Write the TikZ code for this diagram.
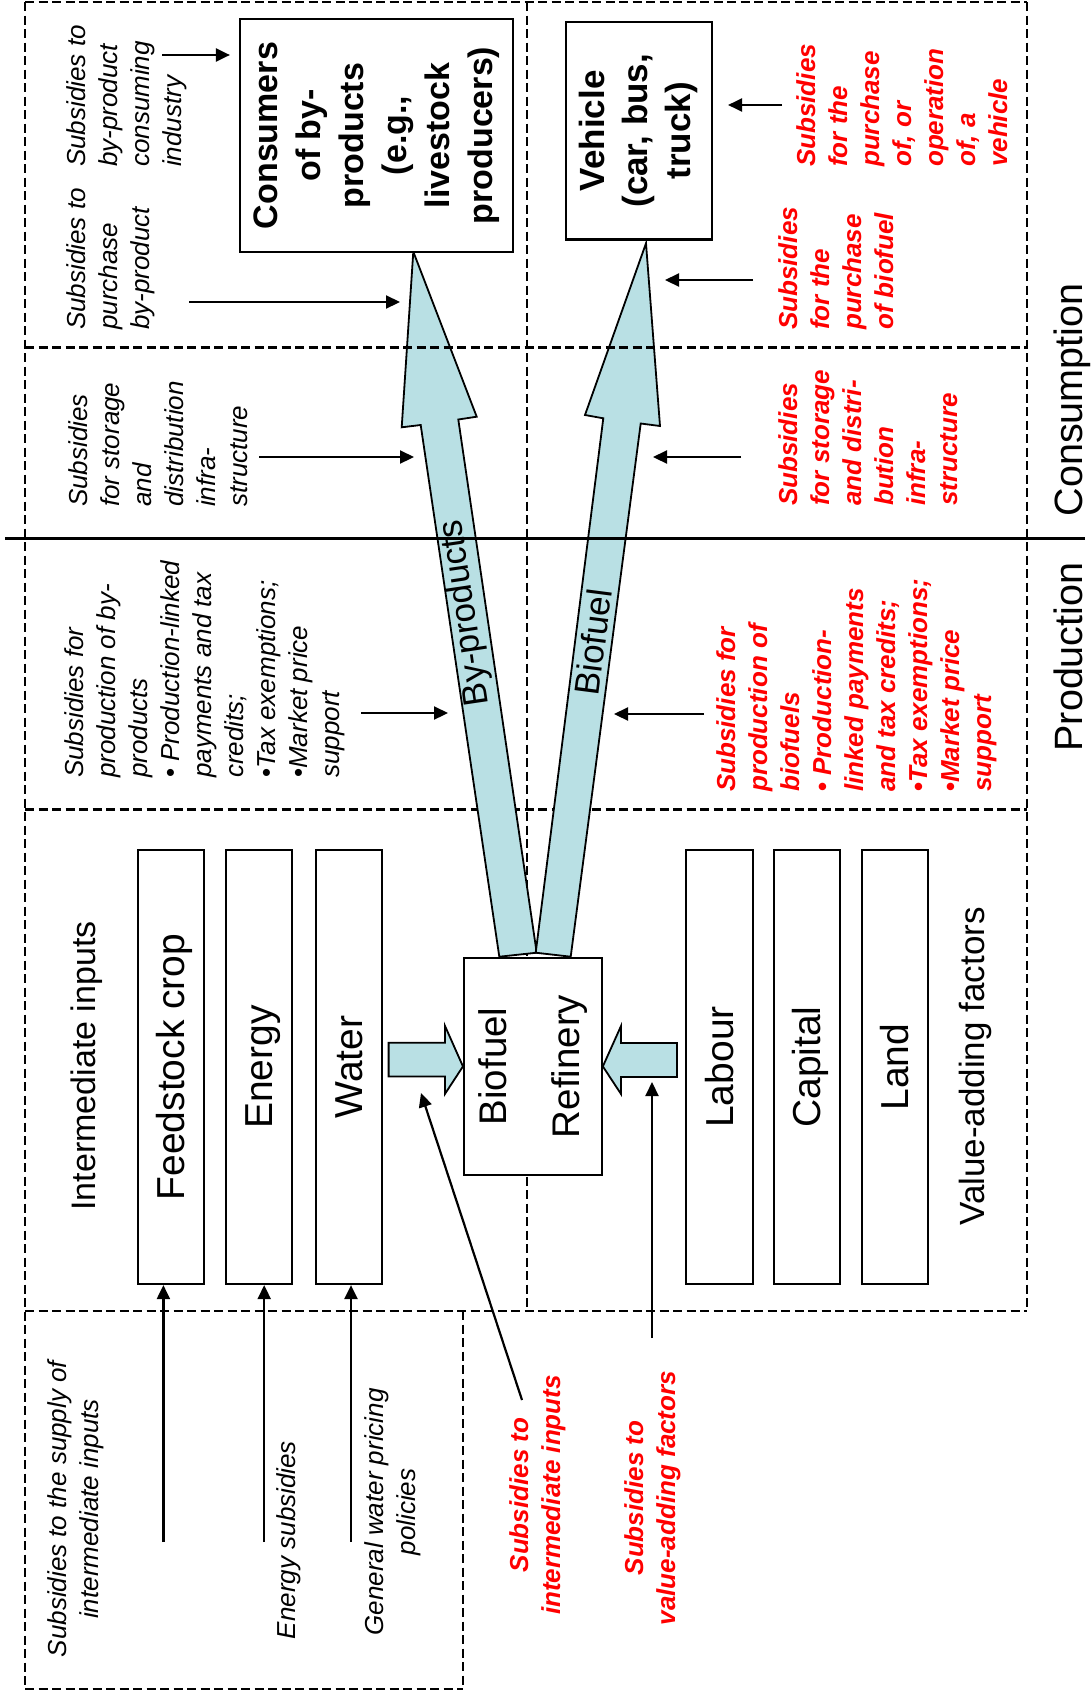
\documentclass[tikz,border=0pt]{standalone}
\usepackage{fontspec}
\setmainfont{Liberation Sans}
\usetikzlibrary{arrows.meta}
\definecolor{flow}{RGB}{185,224,228}
\definecolor{rdc}{RGB}{255,0,0}
\begin{document}
\begin{tikzpicture}[x=1pt,y=-1pt,
  dsh/.style={line width=2.2pt, dash pattern=on 9pt off 4.5pt},
  arr/.style={line width=2.2pt, -{Triangle[length=14pt,width=13pt]}},
  flowshape/.style={draw, line width=1.8pt, fill=flow, line join=miter},
  box/.style={draw, line width=2.2pt, rotate=90, inner sep=0pt, fill=white},
  inbox/.style={box, minimum width=434pt, minimum height=66pt, font=\fontsize{39}{45}\selectfont, text height=35.3pt, text depth=8.3pt},
  blk/.style={rotate=90, inner sep=0pt, align=left, anchor=north west, font=\fontsize{26}{32}\selectfont\itshape},
  rd/.style={rotate=90, inner sep=0pt, align=left, anchor=north west, text=rdc, font=\fontsize{26}{32}\selectfont\bfseries\itshape},
  blkc/.style={rotate=90, inner sep=0pt, align=center, font=\fontsize{26}{32}\selectfont\itshape},
  rdc/.style={rotate=90, inner sep=0pt, align=center, text=rdc, font=\fontsize{26}{32}\selectfont\bfseries\itshape},
  big/.style={inner sep=0pt, font=\fontsize{35}{40}\selectfont}
]
\useasboundingbox (0,0) rectangle (1090,1695);

% ---------- dashed frame ----------
\draw[dsh] (25,2) -- (1027,2);
\draw[dsh] (25,2) -- (25,1689);
\draw[dsh] (1027,2) -- (1027,1311);
\draw[dsh] (527,2) -- (527,1311);
\draw[dsh] (25,809.5) -- (1027,809.5);
\draw[dsh] (25,1311) -- (1027,1311);
\draw[dsh] (463,1311) -- (463,1689);
\draw[dsh] (25,1689) -- (463,1689);

% ---------- big flow arrows ----------
\coordinate (bp1) at (499.3,956.7);
\coordinate (bp2) at (420.7,425);
\coordinate (bp3) at (401.7,427.3);
\coordinate (bp4) at (413.3,251.7);
\coordinate (bp5) at (476.7,416.7);
\coordinate (bp6) at (458.3,419.5);
\coordinate (bp7) at (536.7,952.7);
\draw[flowshape] (bp1) -- (bp2) -- (bp3) -- (bp4) -- (bp5) -- (bp6) -- (bp7) -- cycle;

\coordinate (bf1) at (535.7,952.7);
\coordinate (bf2) at (603.3,418.3);
\coordinate (bf3) at (585,415);
\coordinate (bf4) at (646,243.3);
\coordinate (bf5) at (660,426);
\coordinate (bf6) at (640.7,423.5);
\coordinate (bf7) at (570.7,956.7);
\draw[flowshape] (bf1) -- (bf2) -- (bf3) -- (bf4) -- (bf5) -- (bf6) -- (bf7) -- cycle;

\node[big, rotate=98.4] (bylab) at (466,613) {By-products};
\node[big, rotate=82.6] (bflab) at (593,642) {Biofuel};

% lines drawn over arrows
\draw[dsh] (25,347.5) -- (1027,347.5);
\draw[line width=2.4pt] (5,538.5) -- (1085,538.5);

% ---------- boxes ----------
\node[box, align=center, minimum width=233pt, minimum height=273pt,
      font=\fontsize{34}{43}\selectfont\bfseries] (cons) at (376.5,135.5)
  {Consumers\\of by-\\products\\(e.g.,\\livestock\\producers)};
\node[box, align=center, minimum width=217.5pt, minimum height=146.3pt,
      font=\fontsize{35}{43}\selectfont\bfseries] (veh) at (638.8,130.8)
  {Vehicle\\(car, bus,\\truck)};
\node[box, align=center, minimum width=217.3pt, minimum height=137.7pt,
      font=\fontsize{38.5}{73}\selectfont] (ref) at (532.9,1066.4)
  {Biofuel\\Refinery};

\node[inbox] (feed) at (171,1067) {Feedstock crop};
\node[inbox] (ener) at (259,1067) {Energy};
\node[inbox] (watr) at (349,1067) {Water};
\node[inbox, minimum height=67pt] (labr) at (719.5,1067) {Labour};
\node[inbox] (capi) at (807,1067) {Capital};
\node[inbox] (land) at (895,1067) {Land};

\node[big, rotate=90, font=\fontsize{34}{40}\selectfont] (iilab) at (87,1066) {Intermediate inputs};
\node[big, rotate=90, font=\fontsize{35}{40}\selectfont] (valab) at (975.5,1066.5) {Value-adding factors};

% small block arrows into refinery
\draw[flowshape] (388.6,1042.7) -- (444.9,1042.7) -- (444.9,1025.7) -- (ref.north) -- (444.9,1094) -- (444.9,1076.5) -- (388.6,1076.5) -- cycle;
\draw[flowshape] (677,1043) -- (621,1043) -- (621,1026) -- (ref.south) -- (621,1094) -- (621,1077) -- (677,1077) -- cycle;

% ---------- section labels ----------
\node[big, rotate=90, anchor=base, font=\fontsize{39.5}{45}\selectfont] (conslab) at (1082,400) {Consumption};
\node[big, rotate=90, anchor=base, font=\fontsize{39.5}{45}\selectfont] (prodlab) at (1082,657) {Production};

% ---------- black policy texts ----------
\node[blk] (t1) at (66,330) {Subsidies to\\purchase\\by-product};
\node[blk] (t2) at (66,167) {Subsidies to\\by-product\\consuming\\industry};
\node[blk] (t5) at (68,507) {Subsidies\\for storage\\and\\distribution\\infra-\\structure};
\node[blk] (t7) at (64,778) {Subsidies for\\production of by-\\products\\{\upshape\textbullet}\ Production-linked\\payments and tax\\credits;\\{\upshape\textbullet}Tax exemptions;\\{\upshape\textbullet}Market price\\support};

% ---------- red policy texts ----------
\node[rd] (t3) at (796,167) {Subsidies\\for the\\purchase\\of, or\\operation\\of, a\\vehicle};
\node[rd] (t4) at (778,330) {Subsidies\\for the\\purchase\\of biofuel};
\node[rd] (t6) at (778,506) {Subsidies\\for storage\\and distri-\\bution\\infra-\\structure};
\node[rd] (t8) at (716,792) {Subsidies for\\production of\\biofuels\\{\upshape\textbullet}\ Production-\\linked payments\\and tax credits;\\{\upshape\textbullet}Tax exemptions;\\{\upshape\textbullet}Market price\\support};

% ---------- bottom texts ----------
\node[blkc] (t9) at (76,1509) {Subsidies to the supply of\\intermediate inputs};
\node[blkc] (t10) at (288.5,1540) {Energy subsidies};
\node[blkc] (t11) at (393,1512) {General water pricing\\policies};
\node[rdc] (t12) at (537.5,1495) {Subsidies to\\intermediate inputs};
\node[rdc] (t13) at (652.5,1498) {Subsidies to\\value-adding factors};

% ---------- connectors ----------
\coordinate (a1s) at (162,55);
\draw[arr, shorten >=9pt] (a1s) -- (a1s -| cons.north);
\coordinate (a2s) at (189,302);
\coordinate (a2e) at (400,302);
\draw[arr] (a2s) -- (a2e);
\coordinate (a3s) at (753,280);
\coordinate (a3e) at (665,280);
\draw[arr] (a3s) -- (a3e);
\coordinate (a4s) at (782,105);
\draw[arr, shorten >=15pt] (a4s) -- (a4s -| veh.south);
\coordinate (a5s) at (259,457);
\coordinate (a5e) at (414,457);
\draw[arr] (a5s) -- (a5e);
\coordinate (a6s) at (741,457);
\coordinate (a6e) at (653,457);
\draw[arr] (a6s) -- (a6e);
\coordinate (a7s) at (361,713);
\coordinate (a7e) at (448,713);
\draw[arr] (a7s) -- (a7e);
\coordinate (a8s) at (704,714);
\coordinate (a8e) at (614,714);
\draw[arr] (a8s) -- (a8e);

\coordinate (afeed) at (163.4,1542);
\coordinate (aener) at (264.2,1542);
\coordinate (awatr) at (351,1542);
\draw[arr] (afeed) -- (afeed |- feed.west);
\draw[arr] (aener) -- (aener |- ener.west);
\draw[arr] (awatr) -- (awatr |- watr.west);

\coordinate (ais) at (522,1400);
\coordinate (aie) at (421,1093);
\draw[arr] (ais) -- (aie);
\coordinate (avs) at (652,1338);
\coordinate (ave) at (652,1082);
\draw[arr] (avs) -- (ave);
\end{tikzpicture}
\end{document}
